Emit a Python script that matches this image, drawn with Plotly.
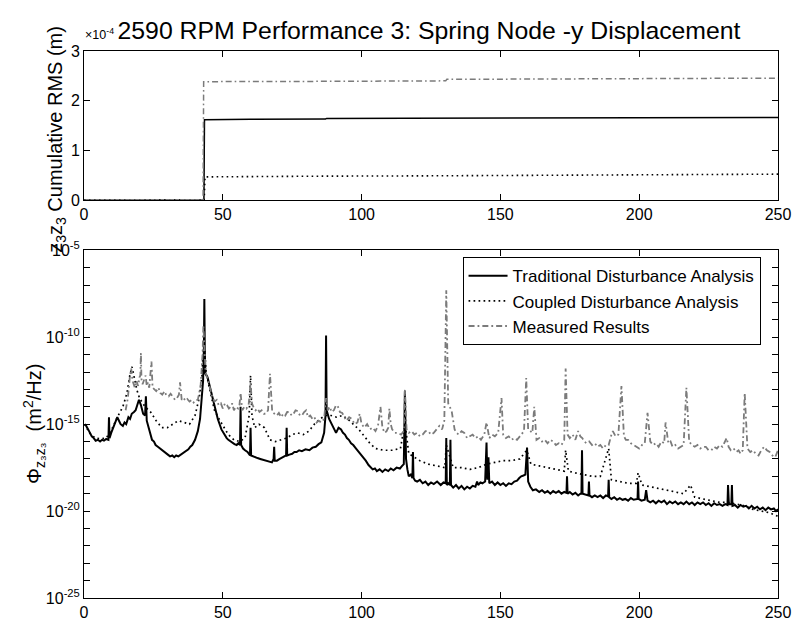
import plotly.graph_objects as go

# ---------------- cumulative RMS, metres ----------------
trad_cum_f = [0, 43.2, 43.4, 50, 60, 87.0, 87.4, 116, 150, 200, 250]
trad_cum_v = [0, 0.002e-4, 1.62e-4, 1.625e-4, 1.628e-4, 1.632e-4, 1.645e-4, 1.65e-4, 1.655e-4, 1.66e-4, 1.665e-4]

coup_cum_f = [0, 17, 43.3, 43.6, 60, 87, 120, 160, 200, 250]
coup_cum_v = [0, 0.002e-4, 0.004e-4, 0.47e-4, 0.48e-4, 0.485e-4, 0.49e-4, 0.5e-4, 0.51e-4, 0.525e-4]

meas_cum_f = [15, 20, 42.9, 43.1, 50, 87, 130.3, 130.7, 160, 174, 200, 250]
meas_cum_v = [0, 0.002e-4, 0.006e-4, 2.38e-4, 2.385e-4, 2.39e-4, 2.4e-4, 2.43e-4, 2.435e-4, 2.44e-4, 2.445e-4, 2.455e-4]

# ---------------- PSD as (frequency Hz, log10 m^2/Hz) ----------------
trad_psd = [
    (0.2, -15.0), (0.8, -15.1), (1.5, -15.3), (2.2, -15.5), (2.8, -15.7), (3.5, -15.8),
    (4.2, -15.95), (5.0, -15.9), (5.8, -16.0), (6.5, -15.9), (7.2, -15.95), (8.0, -15.85),
    (8.8, -15.9), (9.0, -14.6), (9.2, -15.8), (9.8, -15.5), (10.3, -15.3), (11.0, -15.0),
    (11.5, -14.8), (12.0, -14.6), (12.6, -14.8), (13.2, -15.0), (14.0, -15.1), (14.6, -14.9),
    (15.2, -15.0), (16.0, -14.6), (16.6, -14.7), (17.2, -14.4), (18.0, -14.3), (18.6, -14.2),
    (19.2, -13.9), (19.8, -13.6), (20.5, -13.9), (21.3, -14.4), (22.0, -14.5), (22.3, -13.4),
    (22.6, -14.8), (23.5, -15.4), (24.5, -15.9), (25.2, -16.0), (25.8, -16.2), (26.6, -16.3),
    (27.5, -16.4), (28.4, -16.55), (29.3, -16.6), (30.2, -16.75), (31.0, -16.85), (31.8, -16.8),
    (32.5, -16.9), (33.2, -16.8), (34.0, -16.85), (34.8, -16.75), (35.5, -16.7), (36.3, -16.6),
    (37.0, -16.5), (37.6, -16.45), (38.3, -16.3), (39.0, -16.2), (40.0, -15.9), (41.0, -15.4),
    (41.8, -14.7), (42.5, -13.5), (42.9, -12.5), (43.2, -10.5), (43.35, -7.8), (43.5, -10.5),
    (43.7, -12.1), (44.5, -12.3), (45.5, -13.0), (46.5, -13.6), (47.3, -14.2), (48.2, -14.7),
    (49.5, -15.3), (50.7, -15.65), (51.4, -15.8), (52.0, -15.9), (52.8, -16.0), (53.5, -16.1),
    (54.2, -16.15), (55.0, -16.2), (55.6, -16.1), (56.2, -16.2), (56.4, -14.0), (56.6, -16.2),
    (57.3, -16.4), (58.0, -16.5), (58.9, -16.6), (59.8, -16.8), (60.0, -15.2), (60.2, -16.8),
    (60.8, -16.85), (61.5, -16.9), (62.5, -16.95), (63.5, -17.0), (64.5, -17.05), (65.5, -17.1),
    (66.6, -17.15), (67.7, -17.2), (68.3, -17.0), (68.5, -16.3), (68.7, -17.1), (69.5, -17.1),
    (70.5, -17.0), (71.6, -16.9), (72.8, -16.8), (73.0, -15.2), (73.2, -16.8), (74.0, -16.75),
    (75.0, -16.7), (75.8, -16.6), (76.6, -16.6), (77.5, -16.5), (78.5, -16.55), (79.8, -16.45),
    (81.2, -16.5), (82.3, -16.35), (83.5, -16.3), (84.5, -16.15), (85.5, -16.05), (86.5, -15.5),
    (87.0, -14.5), (87.2, -9.9), (87.4, -14.2), (88.3, -14.7), (89.0, -14.9), (89.5, -15.1),
    (90.2, -15.3), (90.8, -15.5), (91.7, -15.2), (92.6, -15.3), (93.3, -15.5), (94.0, -15.6),
    (94.7, -15.8), (95.4, -15.9), (96.2, -16.1), (97.0, -16.2), (98.0, -16.4), (99.0, -16.6),
    (99.8, -16.7), (100.5, -16.9), (101.5, -17.1), (102.5, -17.35), (103.3, -17.5), (104.0, -17.6),
    (104.8, -17.55), (105.5, -17.7), (106.5, -17.6), (107.5, -17.75), (108.5, -17.6), (109.6, -17.7),
    (110.5, -17.55), (111.5, -17.65), (112.6, -17.5), (113.8, -17.55), (114.6, -17.4), (115.2, -17.3),
    (115.6, -13.1), (116.0, -17.0), (116.5, -17.6), (117.0, -18.0), (117.7, -17.9), (118.3, -18.1),
    (118.5, -16.6), (118.7, -18.1), (119.3, -18.25), (120.0, -18.3), (121.0, -18.2), (122.0, -18.4),
    (123.0, -18.3), (124.0, -18.5), (125.0, -18.35), (126.0, -18.45), (127.2, -18.3), (128.5, -18.5),
    (129.5, -18.35), (130.3, -18.4), (130.5, -15.8), (130.7, -18.5), (131.2, -18.4), (131.8, -18.5),
    (132.0, -15.9), (132.2, -18.5), (133.0, -18.65), (134.0, -18.5), (135.0, -18.7), (136.0, -18.55),
    (137.0, -18.75), (138.0, -18.6), (139.0, -18.7), (140.0, -18.55), (141.0, -18.6), (141.6, -18.3),
    (142.0, -18.5), (142.8, -18.35), (143.5, -18.4), (144.5, -18.3), (145.0, -16.05), (145.3, -18.2),
    (145.7, -16.9), (146.0, -18.4), (147.0, -18.3), (148.0, -18.5), (149.0, -18.35), (150.0, -18.5),
    (151.0, -18.4), (152.0, -18.55), (153.0, -18.4), (154.0, -18.45), (155.0, -18.3), (156.0, -18.25),
    (156.8, -18.1), (157.5, -18.0), (158.3, -17.95), (159.0, -17.9), (159.6, -16.35), (160.0, -18.3),
    (160.8, -18.6), (161.7, -18.8), (162.8, -18.75), (164.0, -18.9), (165.0, -18.8), (166.0, -18.95),
    (167.0, -18.85), (168.0, -19.0), (169.0, -18.85), (170.0, -18.95), (171.0, -18.85), (172.0, -19.0),
    (173.0, -18.9), (173.8, -18.95), (174.0, -18.0), (174.2, -19.0), (175.0, -18.9), (176.0, -19.05),
    (177.0, -18.95), (178.0, -19.1), (178.8, -19.0), (179.2, -19.0), (179.4, -16.5), (179.6, -19.0),
    (180.6, -19.05), (181.7, -19.1), (181.9, -18.3), (182.1, -19.1), (183.0, -19.2), (184.0, -19.1),
    (185.0, -19.2), (186.0, -19.1), (187.0, -19.25), (188.0, -19.1), (188.8, -19.15), (189.0, -18.2),
    (189.2, -19.2), (190.0, -19.3), (191.0, -19.2), (192.0, -19.35), (193.0, -19.25), (194.0, -19.35),
    (195.0, -19.3), (196.0, -19.4), (197.0, -19.25), (198.0, -19.35), (199.4, -19.3), (199.6, -18.3),
    (199.8, -19.3), (200.8, -19.4), (202.0, -19.35), (202.5, -18.8), (203.0, -19.4), (204.0, -19.5),
    (205.0, -19.4), (206.0, -19.55), (207.0, -19.4), (208.0, -19.5), (209.0, -19.4), (210.0, -19.6),
    (211.0, -19.45), (212.0, -19.55), (213.0, -19.45), (214.0, -19.6), (215.0, -19.5), (216.0, -19.6),
    (217.0, -19.45), (218.0, -19.6), (219.0, -19.5), (220.0, -19.65), (221.0, -19.5), (222.0, -19.6),
    (223.0, -19.5), (224.0, -19.65), (225.0, -19.55), (226.0, -19.7), (227.0, -19.55), (228.0, -19.65),
    (229.0, -19.6), (230.0, -19.7), (231.0, -19.6), (231.8, -19.65), (232.0, -18.5), (232.3, -19.6),
    (233.2, -19.6), (233.4, -18.5), (233.6, -19.7), (234.5, -19.65), (235.5, -19.8), (236.5, -19.65),
    (237.5, -19.75), (238.5, -19.7), (239.5, -19.85), (240.5, -19.7), (241.5, -19.85), (242.5, -19.75),
    (243.5, -19.9), (244.5, -19.8), (245.5, -19.95), (246.5, -19.8), (247.5, -19.9), (248.5, -19.85),
    (249.3, -20.0), (250.0, -19.9),
]

coup_psd = [
    (0.2, -15.0), (2.0, -15.5), (4.0, -15.8), (6.0, -15.85), (8.0, -15.8), (10.0, -15.3),
    (12.0, -14.6), (14.0, -14.0), (15.5, -13.2), (16.5, -12.2), (17.3, -11.7), (18.0, -12.3),
    (19.0, -13.0), (20.0, -13.5), (22.0, -14.0), (24.0, -14.3), (26.0, -14.8), (28.0, -15.2),
    (30.0, -15.2), (32.0, -15.0), (34.0, -14.8), (36.0, -14.9), (38.0, -15.0), (40.0, -14.5),
    (41.5, -13.5), (42.5, -12.2), (43.0, -10.5), (43.5, -10.8), (44.0, -12.0), (45.0, -12.8),
    (46.0, -13.5), (47.0, -14.2), (49.0, -14.8), (50.7, -15.3), (52.0, -15.6), (54.0, -15.9),
    (56.0, -16.0), (58.0, -15.8), (59.5, -14.5), (60.0, -12.2), (60.5, -14.5), (61.5, -15.2),
    (63.0, -15.0), (65.0, -15.2), (67.0, -15.9), (69.0, -16.0), (71.0, -15.9), (73.0, -15.8),
    (75.0, -15.6), (77.0, -15.5), (79.0, -15.6), (81.0, -15.4), (83.0, -15.0), (85.0, -14.7),
    (87.0, -14.5), (89.0, -14.5), (91.0, -14.6), (93.0, -14.5), (95.0, -14.7), (97.0, -15.0),
    (99.0, -15.3), (101.0, -15.7), (103.0, -16.1), (105.0, -16.4), (108.0, -16.5), (111.0, -16.5),
    (114.0, -16.4), (115.6, -14.9), (117.0, -16.7), (119.0, -16.9), (121.0, -17.1), (124.0, -17.3),
    (127.0, -17.4), (130.0, -17.5), (130.5, -16.2), (133.0, -17.5), (136.0, -17.5), (139.0, -17.6),
    (142.0, -17.5), (145.0, -17.3), (148.0, -17.2), (151.0, -17.1), (154.0, -17.1), (157.0, -17.0),
    (159.5, -16.5), (161.0, -17.3), (164.0, -17.4), (167.0, -17.5), (170.0, -17.6), (173.0, -17.7),
    (173.5, -16.5), (174.5, -17.7), (177.0, -17.8), (180.0, -17.9), (183.0, -18.0), (186.0, -18.0),
    (189.0, -16.4), (190.0, -18.2), (193.0, -18.3), (196.0, -18.4), (199.0, -18.4), (199.6, -17.8),
    (201.0, -18.5), (204.0, -18.6), (207.0, -18.7), (210.0, -18.8), (213.0, -18.9), (216.0, -19.0),
    (218.5, -18.5), (220.0, -19.2), (223.0, -19.3), (226.0, -19.4), (229.0, -19.5), (232.0, -19.5),
    (235.0, -19.6), (238.0, -19.7), (241.0, -19.9), (244.0, -20.0), (247.0, -20.1), (250.0, -20.3),
]

meas_psd = [
    (15.0, -14.2), (15.8, -13.5), (16.5, -12.3), (17.0, -11.8), (17.5, -12.5), (18.3, -12.9),
    (18.9, -12.5), (19.5, -12.8), (20.0, -12.3), (20.3, -12.2), (20.5, -10.9), (20.7, -12.4),
    (21.1, -12.7), (21.5, -12.5), (22.2, -12.2), (22.6, -12.8), (23.0, -12.6), (23.5, -12.9),
    (23.8, -12.4), (24.3, -11.4), (24.7, -12.9), (25.3, -13.0), (26.0, -13.1), (26.8, -12.9),
    (27.5, -13.2), (28.2, -13.3), (29.0, -13.1), (29.7, -13.35), (30.5, -13.4), (31.2, -13.25),
    (32.0, -13.45), (32.8, -13.6), (33.5, -13.5), (34.2, -13.3), (34.6, -12.6), (35.2, -13.6),
    (35.9, -13.5), (36.5, -13.65), (37.2, -13.55), (38.0, -13.7), (38.8, -13.6), (39.5, -13.75),
    (40.3, -13.6), (41.0, -13.6), (42.0, -12.8), (42.7, -11.0), (43.0, -9.3), (43.3, -10.8),
    (43.8, -12.0), (44.5, -12.4), (45.5, -13.0), (46.2, -13.4), (47.0, -13.7), (47.8, -13.6),
    (48.5, -13.9), (49.3, -13.8), (50.0, -14.1), (50.8, -13.8), (51.5, -13.9), (52.2, -14.1),
    (52.8, -14.0), (53.4, -13.8), (54.0, -14.2), (54.8, -14.0), (55.5, -14.1), (56.0, -13.9),
    (56.4, -13.2), (57.0, -14.2), (57.8, -14.0), (58.5, -14.1), (59.3, -13.9), (60.0, -12.6),
    (60.5, -13.8), (61.0, -14.0), (61.8, -14.2), (62.5, -14.1), (63.2, -14.3), (64.0, -14.2),
    (64.8, -14.4), (65.5, -14.4), (66.3, -14.2), (67.0, -12.1), (67.8, -14.3), (68.6, -14.4),
    (69.5, -14.5), (70.2, -14.35), (71.0, -14.6), (71.8, -14.4), (72.5, -14.5), (73.2, -14.3),
    (74.0, -14.3), (74.8, -14.5), (75.5, -14.4), (76.2, -14.2), (77.0, -14.25), (77.8, -14.5),
    (78.5, -14.5), (79.3, -14.3), (80.0, -14.2), (80.7, -14.6), (81.5, -14.5), (82.3, -14.7),
    (83.0, -14.6), (83.8, -14.9), (84.5, -14.8), (85.5, -14.9), (86.5, -14.7), (87.2, -13.5),
    (87.8, -14.2), (88.5, -14.0), (89.2, -14.3), (90.0, -14.2), (90.8, -13.9), (91.5, -14.0),
    (92.2, -14.3), (93.0, -14.35), (93.8, -14.6), (94.5, -14.8), (95.5, -14.6), (96.5, -14.7),
    (97.5, -15.0), (98.5, -14.9), (99.3, -14.4), (100.0, -15.0), (101.0, -15.2), (102.0, -15.0),
    (103.0, -15.3), (104.0, -15.2), (105.0, -15.4), (105.9, -15.1), (106.8, -14.0), (107.5, -15.2),
    (108.3, -15.5), (109.0, -15.4), (109.6, -15.2), (110.0, -14.1), (110.5, -15.0), (111.0, -15.3),
    (112.0, -15.5), (113.0, -15.5), (114.2, -15.6), (115.2, -15.4), (115.6, -13.0), (116.2, -15.3),
    (117.0, -15.5), (118.0, -15.4), (119.0, -15.6), (120.0, -15.5), (121.0, -15.7), (122.0, -15.6),
    (123.0, -15.4), (124.0, -15.4), (125.0, -15.6), (126.0, -15.5), (127.0, -15.3), (128.0, -15.1),
    (129.0, -15.3), (129.8, -14.8), (130.5, -7.3), (131.2, -13.8), (131.8, -14.0), (132.5, -14.3),
    (133.5, -15.3), (134.2, -15.5), (135.0, -15.6), (136.0, -15.4), (137.0, -15.5), (138.0, -15.8),
    (139.0, -15.7), (140.0, -15.6), (141.0, -15.8), (142.0, -15.7), (143.0, -15.9), (144.2, -15.6),
    (145.0, -14.9), (146.0, -15.8), (147.0, -15.6), (148.0, -15.7), (149.2, -15.5), (150.4, -13.5),
    (151.0, -15.6), (152.0, -15.8), (153.0, -15.7), (154.0, -15.9), (155.0, -15.8), (156.0, -15.9),
    (157.0, -15.7), (158.0, -15.5), (158.5, -15.4), (159.3, -12.35), (160.0, -15.3), (160.8, -15.4),
    (161.5, -15.5), (162.2, -14.0), (163.0, -15.9), (164.0, -15.8), (165.0, -16.0), (166.0, -15.9),
    (167.0, -16.1), (168.0, -15.9), (169.0, -16.0), (170.0, -16.2), (171.0, -16.1), (172.0, -16.2),
    (173.0, -15.9), (173.5, -11.8), (174.2, -15.6), (175.0, -15.8), (176.0, -15.6), (177.0, -15.9),
    (178.0, -15.4), (178.8, -15.7), (179.5, -15.8), (180.3, -16.0), (181.0, -16.1), (182.0, -16.0),
    (183.0, -16.2), (184.0, -16.1), (185.0, -16.3), (186.0, -16.2), (187.0, -16.4), (188.0, -16.2),
    (189.0, -16.2), (190.0, -15.6), (190.5, -15.4), (191.5, -15.7), (192.5, -15.6), (193.6, -12.8),
    (194.5, -15.7), (195.2, -15.9), (196.0, -15.9), (197.0, -16.1), (198.0, -16.2), (199.0, -16.3),
    (200.0, -16.4), (201.0, -16.2), (202.0, -16.1), (203.0, -14.35), (204.0, -16.0), (205.0, -16.2),
    (206.0, -16.1), (207.0, -16.3), (208.0, -16.0), (209.0, -16.1), (209.5, -14.9), (210.5, -16.1),
    (211.3, -16.0), (212.0, -16.3), (213.0, -16.2), (214.0, -16.4), (215.0, -16.3), (216.0, -16.2),
    (217.0, -12.9), (218.0, -16.0), (219.0, -16.2), (220.0, -16.3), (221.0, -16.2), (222.0, -16.4),
    (223.0, -16.3), (224.0, -16.3), (225.0, -16.5), (226.0, -16.5), (227.0, -16.3), (228.0, -16.4),
    (229.0, -16.2), (230.0, -16.3), (231.5, -15.8), (232.2, -16.3), (233.0, -16.5), (234.0, -16.4),
    (235.0, -16.6), (235.8, -16.5), (236.5, -16.7), (237.3, -16.5), (238.0, -13.2), (239.0, -16.4),
    (240.0, -16.6), (241.0, -16.5), (242.0, -16.7), (243.0, -16.8), (244.0, -16.5), (245.0, -16.3),
    (246.0, -16.5), (247.0, -16.6), (248.0, -16.8), (249.0, -16.9), (250.0, -16.5),
]

x_ticks = [0, 50, 100, 150, 200, 250]
rms_ticks = [0, 1e-4, 2e-4, 3e-4]
rms_tick_text = ["0", "1", "2", "3"]
psd_major = [-25, -20, -15, -10, -5]
psd_minor = [d for d in range(-25, -4) if d % 5 != 0]

FONT = "Liberation Sans, Arial, sans-serif"
# upper panel line styles
TRAD = dict(color="black", width=1.5)
COUP = dict(color="black", width=1.6, dash="1.6px,3.4px")
MEAS = dict(color="#7b7b7b", width=1.5, dash="6px,3px,1.6px,3px")
# spectrum line styles (denser traces drawn a little heavier)
TRAD_S = dict(color="black", width=2.0)
COUP_S = dict(color="black", width=1.7, dash="1.7px,3.3px")
MEAS_S = dict(color="#7b7b7b", width=1.8, dash="6px,3px,1.8px,3px")

# plot-area geometry in pixels
W, H = 803, 633
L, R, T, B = 84, 15, 51, 25
PH = H - T - B
PW = W - L - R


def py(y_px):
    """paper y for a pixel row"""
    return (H - B - y_px) / PH


def px(x_px):
    """paper x for a pixel column"""
    return (x_px - L) / PW


def split(pairs):
    return [p[0] for p in pairs], [10.0 ** p[1] for p in pairs]


fig = go.Figure()

# upper panel: cumulative RMS
fig.add_trace(go.Scatter(x=trad_cum_f, y=trad_cum_v, mode="lines", line=TRAD,
                         showlegend=False, xaxis="x", yaxis="y"))
fig.add_trace(go.Scatter(x=coup_cum_f, y=coup_cum_v, mode="lines", line=COUP,
                         showlegend=False, xaxis="x", yaxis="y"))
fig.add_trace(go.Scatter(x=meas_cum_f, y=meas_cum_v, mode="lines", line=MEAS,
                         showlegend=False, xaxis="x", yaxis="y"))

# lower panel: power spectral density
for pairs, style, label in [
    (trad_psd, TRAD_S, "Traditional Disturbance Analysis"),
    (coup_psd, COUP_S, "Coupled Disturbance Analysis"),
    (meas_psd, MEAS_S, "Measured Results"),
]:
    fx, fy = split(pairs)
    fig.add_trace(go.Scatter(x=fx, y=fy, mode="lines", line=style, name=label,
                             xaxis="x2", yaxis="y2"))

axis_common = dict(showline=True, linecolor="black", linewidth=1, mirror="ticks",
                   ticks="inside", ticklen=6, tickcolor="black", tickwidth=1,
                   showgrid=False, zeroline=False,
                   tickfont=dict(family=FONT, size=16, color="black"))

fig.update_layout(
    width=W, height=H,
    margin=dict(l=L, r=R, t=T, b=B),
    paper_bgcolor="white", plot_bgcolor="white",
    font=dict(family=FONT, color="black"),
    title=dict(text="2590 RPM Performance 3: Spring Node -y Displacement",
               font=dict(family=FONT, size=24.8, color="black"),
               x=px(434), xref="paper", xanchor="center",
               y=1 - 30 / H, yref="container", yanchor="middle"),
    xaxis=dict(axis_common, domain=[0, 1], range=[0, 250], tickvals=x_ticks, anchor="y"),
    yaxis=dict(axis_common, domain=[py(203), 1], range=[0, 3e-4],
               tickvals=rms_ticks, ticktext=rms_tick_text, anchor="x"),
    xaxis2=dict(axis_common, domain=[0, 1], range=[0, 250], tickvals=x_ticks, anchor="y2"),
    yaxis2=dict(axis_common, domain=[0, py(254)], type="log", range=[-25, -5],
                tickvals=[10.0 ** d for d in psd_major],
                ticktext=["10<sup>%d</sup>" % d for d in psd_major],
                minor=dict(tickvals=[10.0 ** d for d in psd_minor], ticks="inside",
                           ticklen=6, tickcolor="black", tickwidth=1, showgrid=False),
                anchor="x2"),
    legend=dict(x=px(468), y=py(261), xanchor="left", yanchor="top",
                bgcolor="white", bordercolor="black", borderwidth=1,
                font=dict(family=FONT, size=17, color="black"),
                itemwidth=39, tracegroupgap=0),
    annotations=[
        dict(text="×10<sup>-4</sup>", x=0, y=1, xref="paper", yref="paper",
             xanchor="left", yanchor="bottom", yshift=8, showarrow=False,
             borderpad=0, font=dict(family=FONT, size=12.5, color="black")),
        dict(text="z<sub>3</sub>z<sub>3</sub> Cumulative RMS (m)", textangle=-90,
             x=px(56), y=py(141), xref="paper", yref="paper",
             xanchor="center", yanchor="middle", showarrow=False,
             font=dict(family=FONT, size=20, color="black")),
        dict(text="Φ<sub>z₃z₃</sub>  (m<sup>2</sup>/Hz)", textangle=-90,
             x=px(33), y=py(431), xref="paper", yref="paper",
             xanchor="center", yanchor="middle", showarrow=False,
             font=dict(family=FONT, size=20, color="black")),
    ],
)

fig.write_html("out.html")
